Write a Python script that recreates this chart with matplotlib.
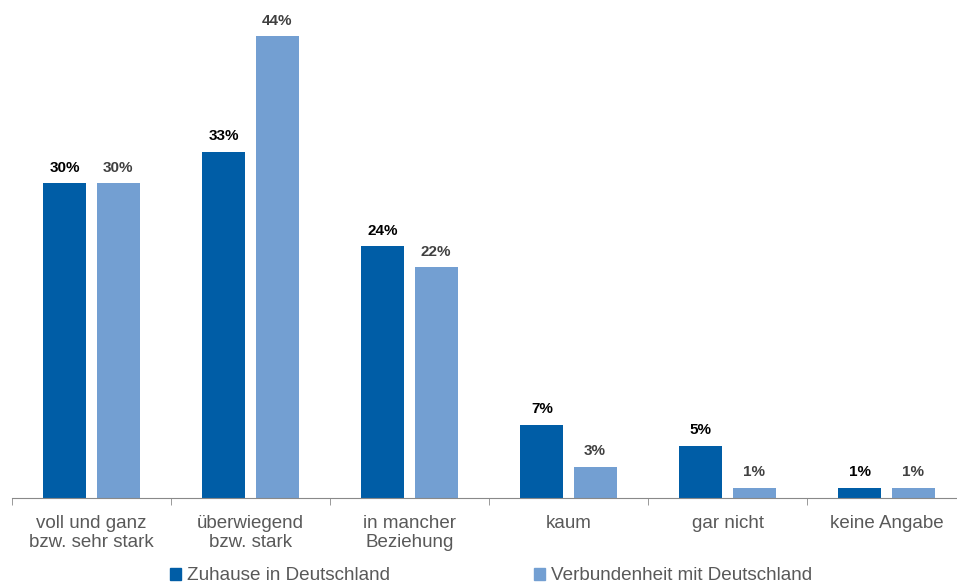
import numpy as np
import matplotlib.pyplot as plt
from matplotlib.patches import Patch

plt.rcParams['font.family'] = ['Liberation Sans', 'DejaVu Sans']

# data
categories = ['voll und ganz\nbzw. sehr stark', 'überwiegend\nbzw. stark', 'in mancher\nBeziehung',
              'kaum', 'gar nicht', 'keine Angabe']
zuhause = [30, 33, 24, 7, 5, 1]
verbunden = [30, 44, 22, 3, 1, 1]
series_names = ['Zuhause in Deutschland', 'Verbundenheit mit Deutschland']

dark = '#005DA6'
light = '#739FD2'
grey_text = '#595959'

W, H = 957, 586
fig = plt.figure(figsize=(W / 100, H / 100), dpi=100)
# axes from x=12px to the right edge, baseline at y=498px
ax = fig.add_axes([12 / W, 88 / H, (W - 12) / W, 483 / H])

x = np.arange(len(categories))
w = 0.27
off = 0.167
b1 = ax.bar(x - off, zuhause, w, color=dark)
b2 = ax.bar(x + off, verbunden, w, color=light)

for rect, v in zip(b1, zuhause):
    ax.annotate(f'{v}%', (rect.get_x() + rect.get_width() / 2, v), xytext=(0, 6),
                textcoords='offset points', ha='center', va='bottom',
                fontsize=11, fontweight='bold', color='black')
for rect, v in zip(b2, verbunden):
    ax.annotate(f'{v}%', (rect.get_x() + rect.get_width() / 2, v), xytext=(0, 6),
                textcoords='offset points', ha='center', va='bottom',
                fontsize=11, fontweight='bold', color='#404040')

ax.set_ylim(0, 46)
ax.set_xlim(-0.5, 5.5 - 9 / 159)
ax.set_yticks([])
for s in ['top', 'right', 'left']:
    ax.spines[s].set_visible(False)
ax.spines['bottom'].set_color('#898989')
ax.set_xticks(x)
ax.set_xticklabels(categories, fontsize=13.5, color=grey_text, linespacing=1.15)
ax.tick_params(axis='x', which='major', length=0, pad=12)
ax.set_xticks(np.arange(-0.5, 5.5, 1), minor=True)
ax.tick_params(axis='x', which='minor', length=5, color='#898989')

handles = [Patch(color=dark), Patch(color=light)]
fig.legend(handles, series_names, loc='center', bbox_to_anchor=(491 / W, 10 / H), ncol=2,
           frameon=False, fontsize=13.6, labelcolor=grey_text, handlelength=0.6,
           handleheight=0.6, handletextpad=0.3, columnspacing=7.6, borderaxespad=0)

fig.savefig('out.png', dpi=100)
